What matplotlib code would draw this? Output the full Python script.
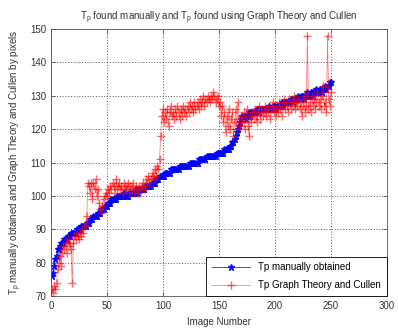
import numpy as np
import matplotlib.pyplot as plt

plt.rcParams['font.family'] = ['Liberation Sans', 'DejaVu Sans']

# Tp found manually (blue) for images 1..250
manual = [
    76, 77, 79, 81, 82, 84, 84, 85, 86, 86,
    86, 87, 87, 87, 88, 88, 88, 89, 89, 89,
    89, 89, 90, 90, 90, 90, 91, 91, 91, 91,
    91, 92, 92, 92, 93, 93, 93, 94, 94, 94,
    94, 95, 95, 95, 96, 96, 96, 97, 97, 97,
    98, 98, 98, 99, 99, 99, 99, 99, 100, 100,
    100, 100, 100, 100, 101, 101, 100, 100, 100, 101,
    101, 101, 101, 101, 101, 102, 102, 101, 102, 102,
    102, 102, 102, 103, 103, 103, 103, 103, 103, 104,
    104, 104, 104, 105, 105, 105, 106, 106, 106, 106,
    106, 107, 107, 107, 107, 107, 108, 108, 108, 108,
    108, 108, 108, 108, 109, 109, 109, 109, 109, 109,
    109, 109, 109, 110, 110, 110, 110, 110, 110, 110,
    110, 111, 111, 111, 111, 111, 111, 111, 112, 112,
    112, 112, 112, 112, 112, 112, 112, 113, 113, 113,
    113, 113, 113, 113, 114, 114, 114, 114, 114, 115,
    115, 116, 116, 117, 118, 119, 120, 121, 122, 123,
    124, 124, 124, 123, 124, 124, 125, 124, 125, 125,
    125, 125, 125, 126, 126, 125, 126, 126, 126, 126,
    126, 126, 126, 126, 127, 126, 126, 127, 127, 127,
    126, 127, 127, 127, 127, 128, 127, 128, 128, 128,
    128, 128, 128, 129, 129, 128, 129, 129, 129, 129,
    130, 129, 130, 130, 130, 129, 130, 130, 131, 130,
    130, 131, 131, 130, 131, 131, 132, 131, 131, 132,
    132, 131, 132, 132, 133, 132, 133, 133, 134, 134,
]

# Tp found with Graph Theory and Cullen (red)
graph = [
    72, 71, 73, 72, 74, 78, 80, 82, 79, 83,
    85, 84, 86, 83, 87, 85, 86, 84, 74, 86,
    88, 87, 89, 88, 87, 89, 88, 90, 89, 91,
    92, 94, 104, 103, 101, 104, 99, 104, 102, 105,
    100, 102, 98, 96, 95, 97, 99, 100, 101, 100,
    102, 101, 103, 102, 104, 103, 101, 105, 102, 103,
    104, 102, 103, 101, 104, 102, 103, 102, 104, 101,
    103, 102, 104, 101, 102, 103, 102, 101, 103, 102,
    103, 104, 102, 103, 105, 104, 106, 104, 105, 106,
    107, 105, 108, 106, 109, 108, 111, 118, 124, 126,
    122, 125, 123, 126, 121, 125, 127, 124, 125, 123,
    126, 124, 127, 125, 123, 126, 124, 127, 125, 126,
    124, 127, 125, 128, 126, 127, 125, 128, 126, 127,
    128, 126, 129, 127, 128, 130, 127, 129, 128, 130,
    129, 128, 130, 129, 131, 130, 128, 129, 130, 127,
    128, 124, 127, 122, 125, 119, 124, 121, 126, 120,
    123, 125, 118, 122, 126, 120, 128, 123, 121, 124,
    122, 125, 120, 123, 126, 121, 118, 124, 122, 125,
    123, 126, 124, 122, 125, 127, 123, 126, 124, 125,
    127, 124, 126, 125, 127, 123, 126, 128, 125, 126,
    124, 127, 125, 128, 126, 124, 127, 129, 126, 128,
    127, 125, 129, 126, 128, 127, 130, 126, 128, 127,
    129, 126, 128, 124, 127, 130, 125, 127, 148, 126,
    128, 125, 130, 127, 129, 126, 128, 131, 127, 129,
    126, 130, 133, 127, 128, 125, 148, 129, 127, 131,
]

images = np.arange(1, len(manual) + 1)

fig = plt.figure(figsize=(3.98, 3.29), dpi=100)
ax = fig.add_axes([0.128, 0.10, 0.844, 0.812])

ax.plot(images, manual, color="blue", marker="*", markersize=4.5,
        linewidth=0.6, alpha=0.85, label="Tp manually obtained")
ax.plot(images, graph, color="red", marker="+", markersize=6,
        linewidth=0.5, alpha=0.6, label="Tp Graph Theory and Cullen")

ax.set_xlim(0, 300)
ax.set_ylim(70, 150)
ax.set_xticks(range(0, 301, 50))
ax.set_yticks(range(70, 151, 10))

ax.grid(True, color="#222222", linestyle=(0, (1.5, 2.5)), linewidth=0.5)
ax.tick_params(direction="in", labelsize=7, colors="#333333",
               top=True, right=True, length=3, width=0.5)
for s in ax.spines.values():
    s.set_linewidth(0.6)
    s.set_color("#555555")

ax.set_title(r"T$\mathregular{_p}$ found manually and T$\mathregular{_p}$ found using Graph Theory and Cullen",
             fontsize=7, color="#333333", pad=6)
ax.set_xlabel("Image Number", fontsize=7, color="#333333")
ax.set_ylabel(r"T$\mathregular{_p}$ manually obtained and Graph Theory and Cullen by pixels",
              fontsize=7, color="#333333", labelpad=4)

leg = ax.legend(loc="lower right", fontsize=7, fancybox=False, framealpha=1,
                edgecolor="black", borderaxespad=0.0, handlelength=4,
                labelspacing=0.8, borderpad=0.6)
leg.get_frame().set_linewidth(0.6)

fig.savefig("out.png", dpi=100)
